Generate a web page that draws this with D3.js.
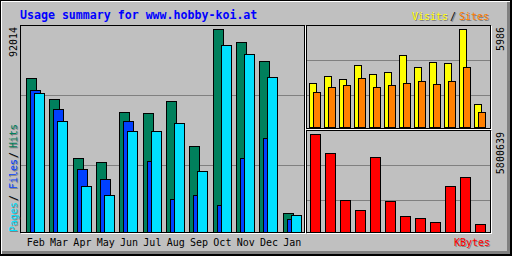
<!DOCTYPE html>
<html>
<head>
<meta charset="utf-8">
<script src="https://cdn.jsdelivr.net/npm/d3@7"></script>
<style>
  body { margin: 0; background: #c0c0c0; }
  svg { display: block; }
  text { font-family: "DejaVu Sans Mono", monospace; font-size: 10px; }
</style>
</head>
<body>
<div id="chart"></div>
<script>
// monthly values
var months = ["Feb", "Mar", "Apr", "May", "Jun", "Jul", "Aug", "Sep", "Oct", "Nov", "Dec", "Jan"];
var hits   = [69670, 60150, 33400, 31590, 54260, 54100, 59380, 38840, 92014, 85990, 77370, 8610];
var files  = [64230, 55620, 28420, 23890, 50180, 32040, 14820, 16630, 12100, 33410, 42610, 5760];
var pages  = [62870, 50180, 20710, 16630, 45650, 45650, 49270, 27510, 84630, 80550, 70120, 7570];
var visits = [2670, 3097, 2914, 3769, 3219, 3341, 4380, 3647, 3952, 3891, 5968, 1387];
var sites  = [2120, 2425, 2547, 2975, 2425, 2547, 2670, 2792, 2608, 2792, 3647, 898];
var kbytes = [5800639, 4676000, 1894000, 1302000, 4439000, 1835000, 947000, 829000, 592000, 2723000, 3255000, 474000];

// scale maxima shown as labels
var hitsMax = 92014, visitsMax = 5986, kbytesMax = 5800639;

var W = 512, H = 256;
var grey = "#c0c0c0", dkgrey = "#808080";

var svg = d3.select("#chart").append("svg")
   .attr("width", W)
   .attr("height", H)
   .attr("shape-rendering", "crispEdges");

svg.append("rect").attr("width", W).attr("height", H).attr("fill", grey);

// outer 3d border
function hline(x1, x2, y, c) {
   svg.append("line").attr("x1", x1).attr("x2", x2 + 1).attr("y1", y + 0.5).attr("y2", y + 0.5).attr("stroke", c);
}
function vline(x, y1, y2, c) {
   svg.append("line").attr("x1", x + 0.5).attr("x2", x + 0.5).attr("y1", y1).attr("y2", y2 + 1).attr("stroke", c);
}
hline(0, 511, 0, "#000"); vline(0, 0, 255, "#000");
hline(1, 510, 1, "#fff"); vline(1, 1, 253, "#fff");
[251, 252, 253].forEach(function (y) { hline(2, 509, y, dkgrey); });
[507, 508, 509].forEach(function (x) { vline(x, 2, 253, dkgrey); });
hline(0, 511, 254, "#000"); hline(0, 511, 255, "#000");
vline(510, 0, 255, "#000"); vline(511, 0, 255, "#000");

// panel frames: black top/left edges, white shadow bottom/right
function frame(x1, y1, x2, y2) {
   svg.append("rect")
      .attr("x", x1 + 0.5).attr("y", y1 + 0.5)
      .attr("width", x2 - x1).attr("height", y2 - y1)
      .attr("fill", "none").attr("stroke", "#000");
   hline(x1 + 1, x2 + 1, y2 + 1, "#fff");
   vline(x2 + 1, y1 + 1, y2 + 1, "#fff");
}

// grid lines
function grid(x1, x2, ys) {
   ys.forEach(function (y) { hline(x1, x2, y, dkgrey); });
}
grid(21, 303, [95, 165]);
grid(307, 489, [60, 95]);
grid(307, 489, [165, 200]);

// scales
var xMain = d3.scaleBand().domain(months).range([26, 26 + 12 * 23.33]);
var yMain = d3.scaleLinear().domain([0, hitsMax]).range([232, 29]);
var xRight = d3.scaleBand().domain(months).range([309, 309 + 12 * 15]);
var yVisits = d3.scaleLinear().domain([0, visitsMax]).range([127, 29]);
var yKB = d3.scaleLinear().domain([0, kbytesMax]).range([232, 134]);

function bars(values, xs, ys, base, offset, w, color) {
   svg.append("g").selectAll("rect")
      .data(values)
      .enter()
      .append("rect")
      .attr("x", function (d, i) { return Math.round(xs(months[i])) + offset + 0.5; })
      .attr("y", function (d) { return Math.round(ys(d)) + 0.5; })
      .attr("width", w)
      .attr("height", function (d) { return base - Math.round(ys(d)); })
      .attr("fill", color)
      .attr("stroke", "#000");
}

bars(hits, xMain, yMain, 232, 0, 10, "#00805c");
bars(files, xMain, yMain, 232, 4, 10, "#0040ff");
bars(pages, xMain, yMain, 232, 8, 10, "#00e0ff");
bars(visits, xRight, yVisits, 127, 0, 7, "#ffff00");
bars(sites, xRight, yVisits, 127, 4, 7, "#ff8000");
bars(kbytes, xRight, yKB, 232, 1, 10, "#ff0000");

frame(20, 25, 304, 232);
frame(306, 25, 490, 128);
frame(306, 130, 490, 232);

// text helpers
function label(txt, x, y, color, anchor, rotate, shadow) {
   var tr = function (dx, dy) {
      return "translate(" + (x + dx) + "," + (y + dy) + ")" + (rotate ? " rotate(-90)" : "");
   };
   if (shadow) {
      svg.append("text").attr("transform", tr(1, 1)).attr("text-anchor", anchor || "start")
         .attr("fill", dkgrey).text(txt);
   }
   return svg.append("text").attr("transform", tr(0, 0)).attr("text-anchor", anchor || "start")
      .attr("fill", color).text(txt);
}

label("Usage summary for www.hobby-koi.at", 20, 19, "#0000ff")
   .style("font-size", "11.6px").style("font-weight", "bold");

label("Visits", 412, 20, "#ffff00", "start", false, true);
label("/", 450, 20, "#000", "start", false, true);
label("Sites", 459, 20, "#ff8000", "start", false, true);

label("KBytes", 490, 246, "#ff0000", "end", false, true);

label("Pages", 17, 232, "#00e0ff", "start", true, true);
label("/", 17, 201, "#000", "start", true, true);
label("Files", 17, 189, "#0040ff", "start", true, true);
label("/", 17, 158, "#000", "start", true, true);
label("Hits", 17, 148, "#00805c", "start", true, true);

label(String(hitsMax), 17, 27, "#000", "end", true);
label(String(visitsMax), 504, 27, "#000", "end", true);
label(String(kbytesMax), 504, 132, "#000", "end", true);

months.forEach(function (m) {
   label(m, xMain(m) + 0.7, 246, "#000");
});
</script>
</body>
</html>
